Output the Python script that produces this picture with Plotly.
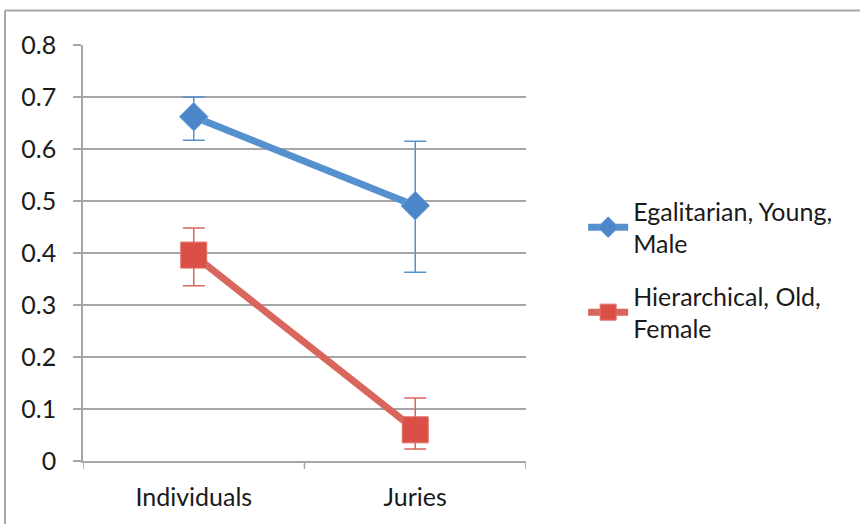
import plotly.graph_objects as go

categories = ["Individuals", "Juries"]
series_names = ["Egalitarian, Young,<br>Male", "Hierarchical, Old,<br>Female"]
egal_values = [0.662, 0.491]
egal_err_plus = [0.038, 0.124]
egal_err_minus = [0.045, 0.128]
hier_values = [0.396, 0.060]
hier_err_plus = [0.052, 0.061]
hier_err_minus = [0.059, 0.037]
y_ticks = [0, 0.1, 0.2, 0.3, 0.4, 0.5, 0.6, 0.7, 0.8]

FONT = "Lato, 'Open Sans', sans-serif"
FS = 25
BLUE_LINE = "#5591CF"
BLUE_MK = "#4A86C8"
RED_LINE = "#D9665D"
RED_MK = "#DA5047"

fig = go.Figure()
fig.add_trace(go.Scatter(
    x=categories, y=egal_values, name=series_names[0], mode="lines+markers",
    legendgroup="egal",
    line=dict(color=BLUE_LINE, width=7),
    marker=dict(symbol="diamond", size=22, color=BLUE_MK,
                line=dict(color="#6FA3DA", width=1)),
    error_y=dict(type="data", symmetric=False, array=egal_err_plus,
                 arrayminus=egal_err_minus, color=BLUE_LINE, thickness=1.5, width=11),
))
fig.add_trace(go.Scatter(
    x=categories, y=hier_values, name=series_names[1], mode="lines+markers",
    legendgroup="hier",
    line=dict(color=RED_LINE, width=7),
    marker=dict(symbol="square", size=26, color=RED_MK,
                line=dict(color="#E07068", width=1)),
    error_y=dict(type="data", symmetric=False, array=hier_err_plus,
                 arrayminus=hier_err_minus, color=RED_LINE, thickness=1.5, width=11),
))

fig.update_layout(
    width=860, height=524,
    margin=dict(l=83, r=334, t=45, b=63),
    paper_bgcolor="white", plot_bgcolor="white",
    font=dict(family=FONT, size=FS, color="#1a1a1a"),
    showlegend=True,
    legend=dict(x=1.129, y=0.46, xanchor="left", yanchor="middle",
                font=dict(family=FONT, size=FS, color="#1a1a1a"),
                traceorder="grouped", tracegroupgap=17, itemwidth=40,
                bgcolor="rgba(0,0,0,0)"),
    xaxis=dict(type="category", range=[-0.5, 1.5], showgrid=False,
               showline=True, linecolor="#A6A6A6", linewidth=1.5,
               ticks="", tickfont=dict(size=FS), ticklabelstandoff=13,
               zeroline=False, fixedrange=True),
    yaxis=dict(range=[0, 0.8], tickvals=y_ticks,
               ticktext=["0" if v == 0 else f"{v:.1f}" for v in y_ticks],
               showgrid=True, gridcolor="#A6A6A6", gridwidth=1.5,
               showline=True, linecolor="#A6A6A6", linewidth=1.5,
               ticks="outside", ticklen=8, tickcolor="#A6A6A6", tickwidth=1.5,
               ticklabelstandoff=12, zeroline=False, tickfont=dict(size=FS)),
)

# category boundary tick marks on x axis
for xv in [-0.5, 0.5, 1.5]:
    fig.add_shape(type="line", xref="x", yref="paper", x0=xv, x1=xv, y0=0, y1=-0.019,
                  line=dict(color="#A6A6A6", width=1.5))

# outer chart border (left and top visible)
fig.add_shape(type="line", xref="paper", yref="paper", x0=-0.176, x1=1.8, y0=1.083, y1=1.083,
              line=dict(color="#A6A6A6", width=2))
fig.add_shape(type="line", xref="paper", yref="paper", x0=-0.176, x1=-0.176, y0=1.083, y1=-0.2,
              line=dict(color="#A6A6A6", width=2))

fig.write_html("out.html", config={"displayModeBar": False},
               post_script="document.body.style.margin='0';document.body.style.overflow='hidden';")
